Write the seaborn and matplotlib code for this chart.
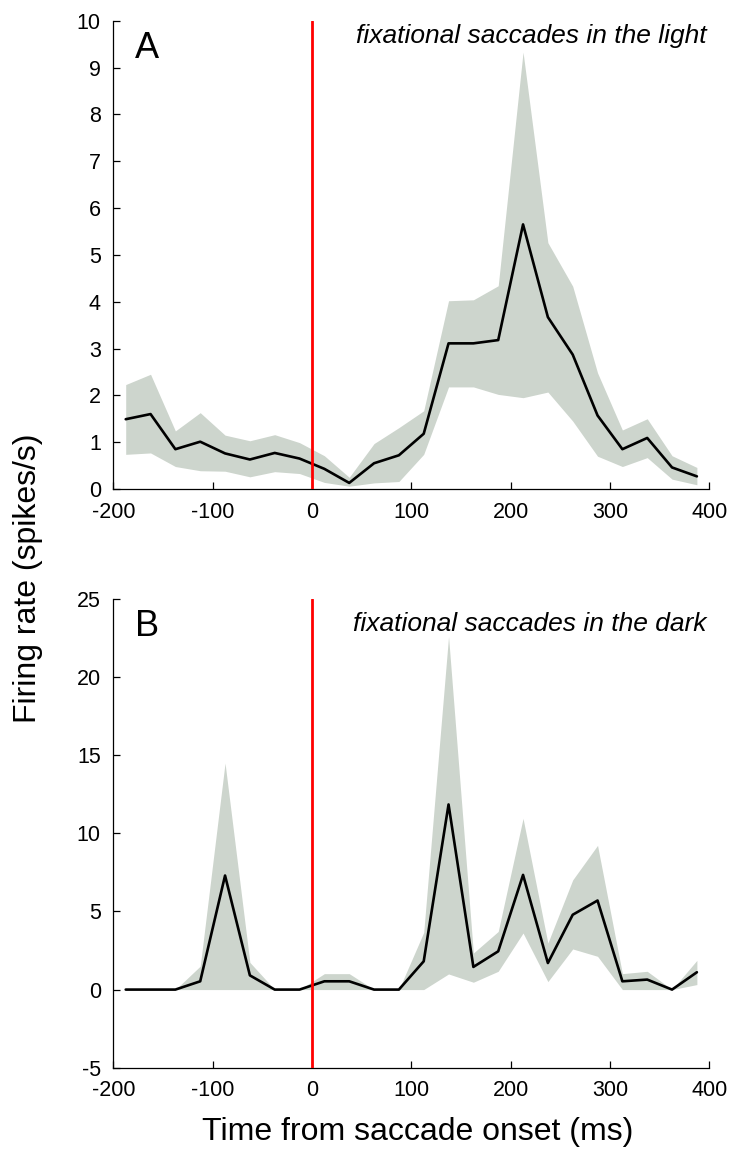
import numpy as np
import pandas as pd
import matplotlib
matplotlib.use("Agg")
import matplotlib.pyplot as plt
import seaborn as sns

# ---- data ----
time_ms = [-187.5, -162.5, -137.5, -112.5, -87.5, -62.5, -37.5, -12.5,
           12.5, 37.5, 62.5, 87.5, 112.5, 137.5, 162.5, 187.5,
           212.5, 237.5, 262.5, 287.5, 312.5, 337.5, 362.5, 387.5]

light_mean = [1.49, 1.60, 0.85, 1.01, 0.76, 0.63, 0.77, 0.65,
              0.43, 0.13, 0.55, 0.72, 1.18, 3.11, 3.11, 3.18,
              5.65, 3.67, 2.87, 1.57, 0.85, 1.09, 0.46, 0.27]
light_upper = [2.23, 2.45, 1.24, 1.63, 1.15, 1.03, 1.16, 0.99,
               0.71, 0.25, 0.97, 1.31, 1.67, 4.02, 4.04, 4.34,
               9.33, 5.26, 4.33, 2.48, 1.26, 1.50, 0.71, 0.46]
light_lower = [0.74, 0.77, 0.48, 0.39, 0.38, 0.26, 0.37, 0.33,
               0.14, 0.06, 0.13, 0.16, 0.74, 2.18, 2.18, 2.02,
               1.95, 2.07, 1.45, 0.70, 0.48, 0.67, 0.21, 0.09]

dark_mean = [0.0, 0.0, 0.0, 0.53, 7.3, 0.91, 0.0, 0.0,
             0.53, 0.53, 0.0, 0.0, 1.81, 11.85, 1.45, 2.45,
             7.34, 1.70, 4.79, 5.70, 0.53, 0.64, 0.0, 1.11]
dark_upper = [0.0, 0.0, 0.0, 1.5, 14.5, 1.74, 0.0, 0.0,
              1.02, 1.02, 0.0, 0.0, 3.66, 22.6, 2.34, 3.72,
              10.96, 2.98, 7.02, 9.23, 1.02, 1.17, 0.0, 1.87]
dark_lower = [0.0, 0.0, 0.0, 0.0, 0.0, 0.0, 0.0, 0.0,
              0.0, 0.0, 0.0, 0.0, 0.0, 1.0, 0.47, 1.17,
              3.62, 0.51, 2.60, 2.13, 0.0, 0.0, 0.0, 0.32]

x_ticks = [-200, -100, 0, 100, 200, 300, 400]
a_yticks = list(range(0, 11))
b_yticks = [-5, 0, 5, 10, 15, 20, 25]

panel_labels = ["A", "B"]
titles = ["fixational saccades in the light", "fixational saccades in the dark"]
xlabel = "Time from saccade onset (ms)"
ylabel = "Firing rate (spikes/s)"

# ---- style ----
sns.set_theme(style="ticks")
plt.rcParams['font.family'] = ['Liberation Sans', 'DejaVu Sans']
plt.rcParams['axes.unicode_minus'] = False
plt.rcParams['text.color'] = 'black'

W, H = 740, 1165
fig = plt.figure(figsize=(W / 100, H / 100), dpi=100)

left, right = 113.3, 709.3
axA = fig.add_axes([left / W, 1 - 489 / H, (right - left) / W, (489 - 20.7) / H])
axB = fig.add_axes([left / W, 1 - 1067.7 / H, (right - left) / W, (1067.7 - 599) / H])

fill_color = "#cdd5cd"

panels = [
    (axA, light_mean, light_upper, light_lower, (0, 10), a_yticks, 0.993, 0.978),
    (axB, dark_mean, dark_upper, dark_lower, (-5, 25), b_yticks, 0.972, 0.978),
]

for i, (ax, m, up, lo, ylim, yt, ty, ly) in enumerate(panels):
    df = pd.DataFrame({"time": time_ms, "rate": m})
    ax.fill_between(time_ms, lo, up, color=fill_color, linewidth=0, zorder=1)
    sns.lineplot(data=df, x="time", y="rate", ax=ax, color="black",
                 linewidth=1.9, zorder=2)
    ax.axvline(0, color="#ff0000", linewidth=2.0, zorder=3)
    ax.set_xlim(-200, 400)
    ax.set_ylim(*ylim)
    ax.set_xticks(x_ticks)
    ax.set_yticks(yt)
    ax.set_xticklabels([str(t) for t in x_ticks])
    ax.set_yticklabels([str(t) for t in yt])
    ax.tick_params(direction="in", length=5, width=0.9, labelsize=15.5,
                   colors="black")
    ax.tick_params(axis="x", pad=9)
    ax.tick_params(axis="y", pad=9)
    for s in ["top", "right"]:
        ax.spines[s].set_visible(False)
    for s in ["left", "bottom"]:
        ax.spines[s].set_color("black")
        ax.spines[s].set_linewidth(0.9)
    ax.set_xlabel("")
    ax.set_ylabel("")
    ax.text(0.037, ly, panel_labels[i], transform=ax.transAxes,
            fontsize=26, ha="left", va="top", color="black")
    ax.text(0.995, ty, titles[i], transform=ax.transAxes,
            fontsize=19, style="italic", ha="right", va="top", color="black")

fig.text(418 / W, 1 - 1132 / H, xlabel, fontsize=23, ha="center", va="center")
fig.text(28 / W, 1 - 578 / H, ylabel, fontsize=23, ha="center", va="center",
         rotation=90)

fig.savefig("out.png", dpi=100)
